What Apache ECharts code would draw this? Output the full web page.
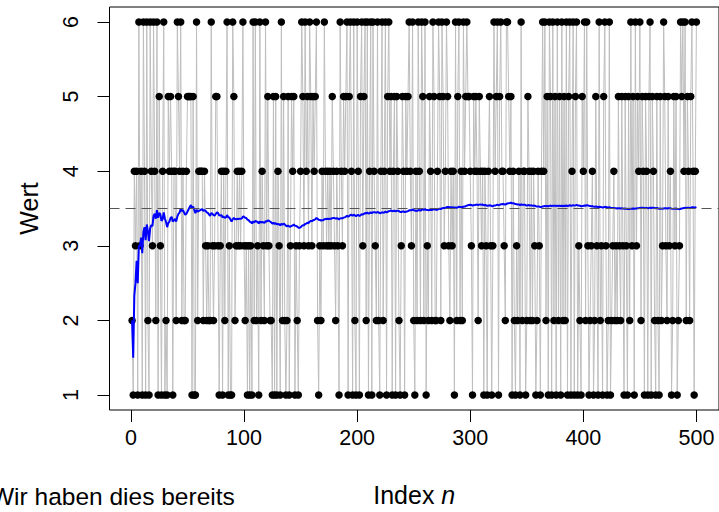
<!DOCTYPE html>
<html><head><meta charset="utf-8">
<script src="https://cdn.jsdelivr.net/npm/echarts@6/dist/echarts.min.js"></script>
<style>html,body{margin:0;padding:0;background:#fff;overflow:hidden}#c{width:719px;height:512px}</style>
</head><body><div id="c"></div>
<script>
// Die rolls 1..500
const rolls = [
2,1,4,3,4,1,6,3,4,1, 6,4,1,6,2,1,6,4,3,6, 4,2,6,1,5,3,1,4,6,1, 2,1,5,4,5,4,1,4,4,2, 6,5,4,
6,2,4,2,2,4, 5,5,5,5,1,5,1,1,6,2, 4,4,4,4,2,4,3,2,3,2, 2,6,3,2,3,5,5,3,1,3, 4,1,4,2,4,6,1,3,1,1, 6,5,
2,3,4,3,4,3,4,6,3,2, 3,1,3,1,3,1,6,2,6,2, 3,1,6,2,4,3,2,6,3,5, 3,2,2,1,5,1,5,1,4,3, 1,6,2,5,2,1,2,5,1,
3,5,4,5,1,3,2,1,3,4, 6,5,3,6,4,5,3,6,5,3, 5,4,5,6,2,1,3,2,4,3, 6,4,3,4,3,4,3,5,4,3, 2,4,3,1,6,4,3,5,4,
5,6,1,5,6,4,1,6,2,1, 6,4,1,5,6,3,5,6,2,6, 1,4,6,1,6,4,3,2,6,2, 1,4,6,2,4,6,1,5,6,4, 5,1,4,5,1,5,4,2,
1,3,5,4,1,5,4,5,6,4, 3,6,2,1,4,2,6,4,2,6, 5,2,6,1,3,2,5,4,2,6, 5,2,2,4,6,5,2,6,5,3, 4,6,5,3,2,4,3,4,1,
6,2,5,6,2,4,2,6,4,5, 6,5,5,4,3,1,5,4,5,4, 2,5,4,3,4,1,4,3,1,4, 5,3,1,3,6,4,5,6,1,5, 6,4,4,3,2,6,6,5,4,
5,1,4,2,1,3,2,4,1,6, 2,4,4,1,2,5,4,2,4,2, 4,3,1,2,4,3,1,4,6,4, 6,2,5,1,6,5,1,6,2,5, 1,6,2,5,1,6,2,5,
2,6,1,5,6,1,4,6,1,5, 6,1,3,2,1,5,4,6,2,6, 3,1,2,3,4,1,2,5,3,1, 6,2,3,1,5,6,3,1,2,6, 1,2,3,4,2,3,2,5,3,
2,5,3,1,5,3,1,5,2,6, 3,5,1,6,3,5,4,6, 2,5,4,1,5,4,1,5,6,1, 5,4,2,1,5,2,1,5,2,3, 6,5,3,2,5,3,4,1,2,5,
3,5,1,2,3,6,5,6,4,6, 2,5,4,2,5,6,4,1,4,6
];
const xTicks = [0, 100, 200, 300, 400, 500];
const yTicks = [1, 2, 3, 4, 5, 6];
const expectedValue = 3.5;
const xName = 'Index', xNameItalic = 'n', yName = 'Wert';
const footText = 'Wir haben dies bereits';

const points = rolls.map((v, i) => [i + 1, v]);
let acc = 0;
const runningMean = rolls.map((v, i) => { acc += v; return [i + 1, acc / (i + 1)]; });

const FONT = '"Liberation Sans", Arial, Helvetica, sans-serif';
const FS = 21.5, TS = 25;
const chart = echarts.init(document.getElementById('c'), null, { renderer: 'svg' });
chart.setOption({
  animation: false,
  grid: { left: 109.5, top: 7, width: 610.1, height: 405, show: true, borderColor: '#000', borderWidth: 1, backgroundColor: 'transparent' },
  xAxis: {
    type: 'value', min: -18.96, max: 519.96,
    axisLine: { show: false, onZero: false }, splitLine: { show: false },
    axisTick: { show: true, customValues: xTicks, length: 12, lineStyle: { color: '#000', width: 1 } },
    axisLabel: { customValues: xTicks, margin: 17, fontSize: FS, color: '#000', fontFamily: FONT },
    name: '{a|' + xName + ' }{b|' + xNameItalic + '}', nameLocation: 'middle', nameGap: 72,
    nameTextStyle: { rich: { a: { fontSize: TS, fontFamily: FONT, color: '#000' }, b: { fontSize: TS, fontFamily: FONT, fontStyle: 'italic', color: '#000' } } }
  },
  yAxis: {
    type: 'value', min: 0.8, max: 6.2,
    axisLine: { show: false, onZero: false }, splitLine: { show: false },
    axisTick: { show: true, customValues: yTicks, length: 12, lineStyle: { color: '#000', width: 1 } },
    axisLabel: { customValues: yTicks, rotate: 90, margin: 28, fontSize: FS, color: '#000', fontFamily: FONT },
    name: yName, nameLocation: 'middle', nameRotate: 90, nameGap: 68,
    nameTextStyle: { fontSize: TS, fontFamily: FONT, color: '#000' }
  },
  graphic: [{ type: 'text', left: -9, top: 484, style: { text: footText, font: '24.5px ' + FONT, fill: '#000' } }],
  series: [
    { type: 'line', data: points, showSymbol: false, lineStyle: { color: '#bebebe', width: 1 }, z: 1,
      markLine: { silent: true, symbol: 'none', label: { show: false }, data: [{ yAxis: expectedValue }],
        lineStyle: { color: '#555', type: [10, 6], width: 1.2 } } },
    { type: 'scatter', data: points, symbol: 'circle', symbolSize: 7.5, itemStyle: { color: '#000', opacity: 1 }, z: 2 },
    { type: 'line', data: runningMean, showSymbol: false, lineStyle: { color: '#0000ff', width: 2 }, z: 3 }
  ]
});
</script></body></html>
